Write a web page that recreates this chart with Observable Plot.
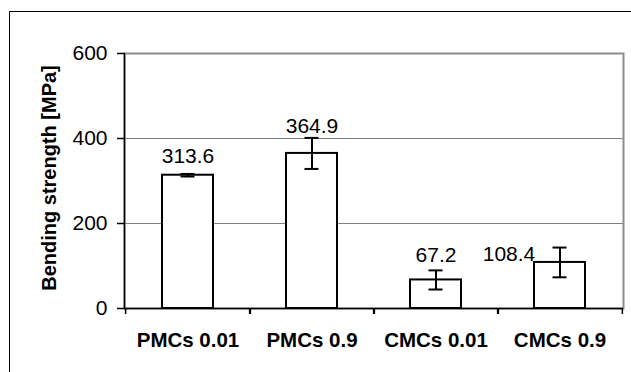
<!DOCTYPE html>
<html>
<head>
<meta charset="utf-8">
<script src="https://cdn.jsdelivr.net/npm/d3@7"></script>
<script src="https://cdn.jsdelivr.net/npm/@observablehq/plot@0.6"></script>
<style>
  html, body { margin: 0; padding: 0; background: white; overflow: hidden; }
  #wrap { position: relative; width: 631px; height: 372px; overflow: hidden; }
  #border { position: absolute; left: 9px; top: 11px; width: 700px; height: 500px;
            border-left: 1.5px solid black; border-top: 1.5px solid black; }
  #chart { position: absolute; left: 0; top: 0; }
</style>
</head>
<body>
<div id="wrap"><div id="border"></div><div id="chart"></div></div>
<script>
const categories = ["PMCs 0.01", "PMCs 0.9", "CMCs 0.01", "CMCs 0.9"];
const strength = [313.6, 364.9, 67.2, 108.4];
const errors = [3, 36.5, 22.5, 35];
const yTicks = [0, 200, 400, 600];

// label placement nudges (style only)
const labelNudge = {
  "PMCs 0.01": [0, -12],
  "PMCs 0.9": [0, -20],
  "CMCs 0.01": [0, -18],
  "CMCs 0.9": [-51, -1]
};

const data = categories.map((c, i) => ({cat: c, v: strength[i], e: errors[i]}));

const W = 631, H = 372, mL = 124, mR = 8, mT = 53, mB = 64;
const half = (W - mL - mR) / categories.length / 2;
const font = "Liberation Sans, Arial, sans-serif";

const chart = Plot.plot({
  width: W, height: H,
  marginLeft: mL, marginRight: mR, marginTop: mT, marginBottom: mB,
  style: {fontFamily: font, fontSize: "21px", background: "transparent", color: "black", overflow: "visible"},
  x: {domain: categories, paddingInner: 0.59, paddingOuter: 0.295, label: null},
  y: {domain: [0, 600], label: null},
  marks: [
    Plot.gridY([200, 400], {stroke: "#808080", strokeOpacity: 1, strokeWidth: 1}),
    Plot.frame({stroke: "#8c8c8c", strokeWidth: 2}),
    Plot.barY(data, {x: "cat", y: "v", fill: "white", stroke: "black", strokeWidth: 2}),
    Plot.ruleX(data, {x: "cat", y1: d => d.v - d.e, y2: d => d.v + d.e, stroke: "black", strokeWidth: 2}),
    Plot.tickY(data, {x: "cat", y: d => d.v + d.e, insetLeft: 18.5, insetRight: 18.5, stroke: "black", strokeWidth: 2}),
    Plot.tickY(data, {x: "cat", y: d => d.v - d.e, insetLeft: 18.5, insetRight: 18.5, stroke: "black", strokeWidth: 2}),
    Plot.ruleY([0], {stroke: "black", strokeWidth: 1.5}),
    Plot.frame({anchor: "left", stroke: "black", strokeWidth: 1.5}),
    Plot.axisY({ticks: yTicks, tickSize: 7, tickPadding: 10, fontSize: 21, label: null, strokeWidth: 1.5}),
    Plot.axisX({tickSize: 0, tickPadding: 24, fontWeight: "bold", fontSize: 20.5, label: null}),
    Plot.axisX({tickSize: 6, tickFormat: () => "", dx: -half, label: null, strokeWidth: 1.5}),
    Plot.axisX({tickSize: 6, tickFormat: () => "", dx: half, label: null, strokeWidth: 1.5}),
    ...categories.map(c => Plot.text(data.filter(d => d.cat === c), {
      x: "cat", y: "v", text: d => d.v.toFixed(1), lineAnchor: "bottom",
      fontSize: 21, dx: labelNudge[c][0], dy: labelNudge[c][1]
    })),
    Plot.text(["Bending strength [MPa]"], {
      frameAnchor: "left", textAnchor: "middle", lineAnchor: "middle", rotate: -90, dx: -75, dy: -3,
      fontWeight: "bold", fontSize: 20
    })
  ]
});
document.getElementById("chart").appendChild(chart);
</script>
</body>
</html>
